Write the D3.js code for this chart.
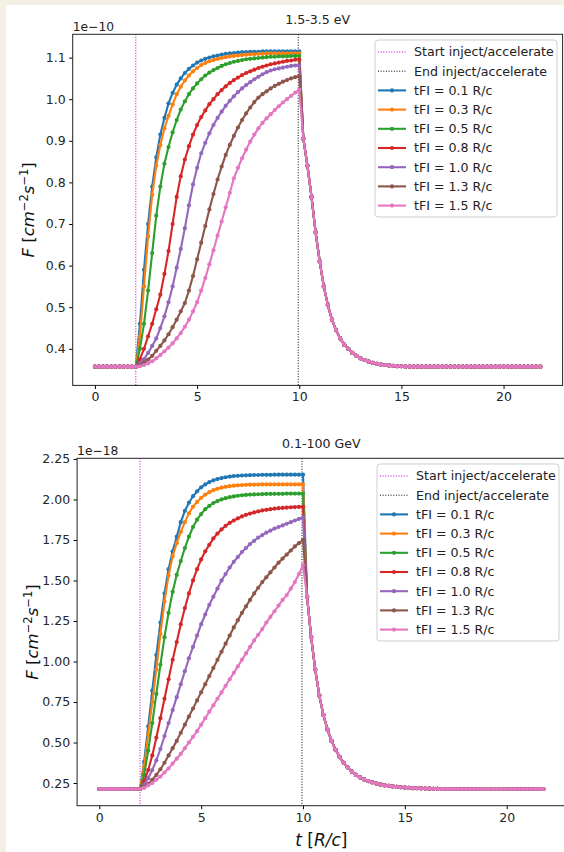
<!DOCTYPE html>
<html>
<head>
<meta charset="utf-8">
<script src="https://cdn.jsdelivr.net/npm/d3@7/dist/d3.min.js"></script>
<style>
  html, body { margin: 0; padding: 0; background: #f4f0e4; }
  svg { display: block; font-family: "DejaVu Sans", sans-serif; }
</style>
</head>
<body>
<div id="chart"></div>
<script>
// time grid (R/c): before injection, during injection, after
const tPre = [0, 0.2, 0.4, 0.6, 0.8, 1.0, 1.2, 1.4, 1.6, 1.8];
const tRise = [2.0, 2.2, 2.4, 2.6, 2.8, 3.0, 3.2, 3.4, 3.6, 3.8,
  4.0, 4.2, 4.4, 4.6, 4.8, 5.0, 5.2, 5.4, 5.6, 5.8,
  6.0, 6.2, 6.4, 6.6, 6.8, 7.0, 7.2, 7.4, 7.6, 7.8,
  8.0, 8.2, 8.4, 8.6, 8.8, 9.0, 9.2, 9.4, 9.6, 9.8, 10.0];
const tDecay = [10.2, 10.4, 10.6, 10.8, 11.0, 11.2, 11.4, 11.6, 11.8, 12.0,
  12.2, 12.4, 12.6, 12.8, 13.0, 13.2, 13.4, 13.6, 13.8, 14.0,
  14.2, 14.4, 14.6, 14.8, 15.0, 15.2, 15.4, 15.6, 15.8, 16.0,
  16.2, 16.4, 16.6, 16.8, 17.0, 17.2, 17.4, 17.6, 17.8, 18.0,
  18.2, 18.4, 18.6, 18.8, 19.0, 19.2, 19.4, 19.6, 19.8, 20.0,
  20.2, 20.4, 20.6, 20.8, 21.0, 21.2, 21.4, 21.6, 21.8];

const tStart = 2.0;
const tEnd = 9.95;

const seriesNames = ["tFI = 0.1 R/c", "tFI = 0.3 R/c", "tFI = 0.5 R/c", "tFI = 0.8 R/c",
  "tFI = 1.0 R/c", "tFI = 1.3 R/c", "tFI = 1.5 R/c"];
const seriesColors = ["#1f77b4", "#ff7f0e", "#2ca02c", "#d62728", "#9467bd", "#8c564b", "#e377c2"];

// ---- 1.5-3.5 eV (units of 1e-10) ----
const optPre = [0.357, 0.357, 0.357, 0.357, 0.357, 0.357, 0.357, 0.357, 0.357, 0.357];
const optRise = [
  [0.357, 0.46, 0.59, 0.70, 0.79, 0.86, 0.915, 0.955, 0.99, 1.015,
   1.035, 1.05, 1.063, 1.073, 1.081, 1.088, 1.093, 1.097, 1.1, 1.103,
   1.105, 1.107, 1.109, 1.11, 1.111, 1.112, 1.113, 1.113, 1.114, 1.114,
   1.114, 1.115, 1.115, 1.115, 1.115, 1.115, 1.115, 1.115, 1.115, 1.115, 1.115],
  [0.357, 0.43, 0.55, 0.67, 0.77, 0.84, 0.89, 0.93, 0.96, 0.987,
   1.012, 1.03, 1.045, 1.057, 1.067, 1.075, 1.082, 1.087, 1.091, 1.094,
   1.097, 1.099, 1.101, 1.103, 1.104, 1.105, 1.106, 1.107, 1.108, 1.108,
   1.109, 1.109, 1.11, 1.11, 1.11, 1.11, 1.11, 1.11, 1.11, 1.11, 1.11],
  [0.357, 0.40, 0.46, 0.54, 0.63, 0.72, 0.79, 0.845, 0.885, 0.92,
   0.95, 0.975, 0.995, 1.012, 1.026, 1.038, 1.048, 1.057, 1.064, 1.07,
   1.075, 1.08, 1.084, 1.087, 1.09, 1.092, 1.094, 1.096, 1.097, 1.098,
   1.099, 1.1, 1.101, 1.102, 1.102, 1.103, 1.103, 1.103, 1.104, 1.104, 1.104],
  [0.357, 0.375, 0.40, 0.43, 0.46, 0.495, 0.53, 0.58, 0.635, 0.70,
   0.765, 0.815, 0.855, 0.887, 0.915, 0.938, 0.957, 0.973, 0.988, 1.0,
   1.012, 1.022, 1.031, 1.039, 1.046, 1.052, 1.058, 1.063, 1.067, 1.071,
   1.075, 1.078, 1.081, 1.084, 1.086, 1.088, 1.09, 1.092, 1.093, 1.095, 1.096],
  [0.357, 0.365, 0.375, 0.39, 0.407, 0.425, 0.45, 0.478, 0.512, 0.55,
   0.595, 0.64, 0.69, 0.745, 0.795, 0.835, 0.87, 0.895, 0.918, 0.938,
   0.955, 0.97, 0.984, 0.996, 1.007, 1.017, 1.026, 1.034, 1.041, 1.048,
   1.054, 1.06, 1.065, 1.069, 1.072, 1.074, 1.076, 1.078, 1.08, 1.081, 1.082],
  [0.357, 0.36, 0.366, 0.374, 0.383, 0.395, 0.407, 0.42, 0.435, 0.452,
   0.47, 0.49, 0.51, 0.54, 0.575, 0.615, 0.655, 0.695, 0.735, 0.772,
   0.807, 0.838, 0.866, 0.89, 0.912, 0.932, 0.95, 0.966, 0.98, 0.993,
   1.004, 1.012, 1.019, 1.026, 1.032, 1.037, 1.042, 1.046, 1.05, 1.053, 1.055],
  [0.357, 0.358, 0.361, 0.365, 0.37, 0.377, 0.385, 0.394, 0.403, 0.413,
   0.425, 0.438, 0.453, 0.47, 0.49, 0.512, 0.54, 0.57, 0.603, 0.637,
   0.672, 0.706, 0.74, 0.775, 0.81, 0.835, 0.858, 0.879, 0.898, 0.915,
   0.93, 0.943, 0.954, 0.964, 0.974, 0.983, 0.992, 1.0, 1.008, 1.016, 1.023]
];
const optDecay = [0.905, 0.84, 0.765, 0.68, 0.61, 0.55, 0.505, 0.47, 0.445, 0.425,
  0.41, 0.40, 0.39, 0.383, 0.377, 0.373, 0.369, 0.366, 0.364, 0.362,
  0.361, 0.36, 0.359, 0.358, 0.358, 0.357, 0.357, 0.357, 0.357, 0.357,
  0.357, 0.357, 0.357, 0.357, 0.357, 0.357, 0.357, 0.357, 0.357, 0.357,
  0.357, 0.357, 0.357, 0.357, 0.357, 0.357, 0.357, 0.357, 0.357, 0.357,
  0.357, 0.357, 0.357, 0.357, 0.357, 0.357, 0.357, 0.357, 0.357];
const optTicks = [0.4, 0.5, 0.6, 0.7, 0.8, 0.9, 1.0, 1.1];

// ---- 0.1-100 GeV (units of 1e-18) ----
const gevPre = [0.213, 0.213, 0.213, 0.213, 0.213, 0.213, 0.213, 0.213, 0.213, 0.213];
const gevRise = [
  [0.213, 0.38, 0.6, 0.82, 1.04, 1.24, 1.42, 1.57, 1.68, 1.77,
   1.86, 1.93, 1.98, 2.02, 2.05, 2.075, 2.093, 2.107, 2.118, 2.126,
   2.132, 2.137, 2.141, 2.144, 2.146, 2.148, 2.149, 2.15, 2.151, 2.151,
   2.152, 2.152, 2.152, 2.153, 2.153, 2.153, 2.153, 2.153, 2.153, 2.153, 2.153],
  [0.213, 0.35, 0.55, 0.75, 0.95, 1.17, 1.37, 1.53, 1.65, 1.73,
   1.80, 1.86, 1.915, 1.955, 1.985, 2.01, 2.03, 2.045, 2.057, 2.066,
   2.073, 2.078, 2.082, 2.085, 2.087, 2.089, 2.09, 2.091, 2.092, 2.092,
   2.093, 2.093, 2.093, 2.093, 2.093, 2.093, 2.093, 2.093, 2.093, 2.093, 2.093],
  [0.213, 0.30, 0.45, 0.62, 0.80, 0.98, 1.15, 1.30, 1.43, 1.535,
   1.62, 1.70, 1.77, 1.83, 1.875, 1.91, 1.94, 1.96, 1.978, 1.99,
   2.0, 2.008, 2.014, 2.019, 2.023, 2.026, 2.028, 2.03, 2.031, 2.032,
   2.033, 2.034, 2.034, 2.035, 2.035, 2.035, 2.036, 2.036, 2.036, 2.036, 2.036],
  [0.213, 0.26, 0.33, 0.42, 0.53, 0.65, 0.77, 0.89, 1.01, 1.12,
   1.23, 1.33, 1.42, 1.50, 1.57, 1.63, 1.68, 1.72, 1.76, 1.79,
   1.815, 1.837, 1.855, 1.87, 1.883, 1.895, 1.905, 1.913, 1.92, 1.926,
   1.932, 1.936, 1.94, 1.943, 1.946, 1.948, 1.95, 1.952, 1.953, 1.954, 1.955],
  [0.213, 0.24, 0.28, 0.33, 0.39, 0.46, 0.54, 0.62, 0.70, 0.78,
   0.86, 0.94, 1.02, 1.09, 1.16, 1.23, 1.29, 1.35, 1.40, 1.45,
   1.50, 1.54, 1.58, 1.615, 1.645, 1.675, 1.70, 1.725, 1.745, 1.765,
   1.78, 1.795, 1.808, 1.82, 1.83, 1.84, 1.85, 1.86, 1.87, 1.88, 1.89],
  [0.213, 0.225, 0.245, 0.27, 0.30, 0.335, 0.375, 0.42, 0.465, 0.51,
   0.56, 0.61, 0.66, 0.71, 0.76, 0.81, 0.86, 0.91, 0.96, 1.01,
   1.06, 1.11, 1.16, 1.21, 1.255, 1.30, 1.34, 1.38, 1.42, 1.455,
   1.49, 1.52, 1.55, 1.58, 1.61, 1.635, 1.66, 1.685, 1.71, 1.73, 1.75],
  [0.213, 0.22, 0.235, 0.25, 0.27, 0.29, 0.315, 0.34, 0.37, 0.40,
   0.43, 0.465, 0.50, 0.535, 0.57, 0.61, 0.65, 0.69, 0.73, 0.77,
   0.81, 0.85, 0.89, 0.93, 0.97, 1.01, 1.05, 1.09, 1.13, 1.165,
   1.20, 1.24, 1.275, 1.31, 1.345, 1.38, 1.41, 1.45, 1.49, 1.54, 1.595]
];
const gevDecay = [1.4, 1.15, 0.95, 0.79, 0.67, 0.58, 0.51, 0.455, 0.41, 0.375,
  0.345, 0.32, 0.30, 0.285, 0.272, 0.262, 0.254, 0.247, 0.241, 0.236,
  0.232, 0.229, 0.226, 0.224, 0.222, 0.22, 0.219, 0.218, 0.217, 0.216,
  0.215, 0.214, 0.214, 0.213, 0.213, 0.213, 0.213, 0.213, 0.213, 0.213,
  0.213, 0.213, 0.213, 0.213, 0.213, 0.213, 0.213, 0.213, 0.213, 0.213,
  0.213, 0.213, 0.213, 0.213, 0.213, 0.213, 0.213, 0.213, 0.213];
const gevTicks = [0.25, 0.5, 0.75, 1.0, 1.25, 1.5, 1.75, 2.0, 2.25];

const xTicks = [0, 5, 10, 15, 20];

const W = 564, H = 852;
const svg = d3.select("#chart").append("svg")
  .attr("width", W).attr("height", H);

svg.append("rect").attr("width", W).attr("height", H).attr("fill", "#f4f0e4");
svg.append("rect").attr("x", 6).attr("y", 5).attr("width", W - 6).attr("height", H - 5).attr("fill", "#fff");

const times = tPre.concat(tRise, tDecay);

function drawPanel(cfg) {
  const x = d3.scaleLinear().domain([-1.09, 22.89]).range([cfg.left, cfg.right]);
  const y = d3.scaleLinear().domain(cfg.yDomain).range([cfg.bottom, cfg.top]);
  const g = svg.append("g");

  // injection start / end markers
  g.append("line")
    .attr("x1", x(tStart)).attr("x2", x(tStart))
    .attr("y1", cfg.top).attr("y2", cfg.bottom)
    .attr("stroke", "#bf00bf").attr("stroke-width", 1)
    .attr("stroke-dasharray", "1,1.65");
  g.append("line")
    .attr("x1", x(tEnd)).attr("x2", x(tEnd))
    .attr("y1", cfg.top).attr("y2", cfg.bottom)
    .attr("stroke", "#000").attr("stroke-width", 1)
    .attr("stroke-dasharray", "1,1.65");

  const line = d3.line().x(d => x(d[0])).y(d => y(d[1]));

  cfg.rise.forEach((r, i) => {
    const vals = cfg.pre.concat(r, cfg.decay);
    const pts = times.map((t, k) => [t, vals[k]]);
    g.append("path").datum(pts)
      .attr("d", line)
      .attr("fill", "none")
      .attr("stroke", seriesColors[i])
      .attr("stroke-width", 2.1)
      .attr("stroke-linejoin", "round");
    g.append("g").selectAll("circle")
      .data(pts).enter().append("circle")
      .attr("cx", d => x(d[0])).attr("cy", d => y(d[1]))
      .attr("r", 2.1)
      .attr("fill", seriesColors[i]);
  });

  // axes
  g.append("g")
    .attr("transform", `translate(0,${cfg.bottom})`)
    .call(d3.axisBottom(x).tickValues(xTicks).tickSize(3.5).tickPadding(3.5).tickFormat(d3.format("d")))
    .call(a => a.select(".domain").remove())
    .call(a => a.selectAll("text").attr("font-size", 12.5).attr("fill", "#262626").attr("font-family", "DejaVu Sans"));
  g.append("g")
    .attr("transform", `translate(${cfg.left},0)`)
    .call(d3.axisLeft(y).tickValues(cfg.ticks).tickSize(3.5).tickPadding(3.5).tickFormat(d3.format(cfg.fmt)))
    .call(a => a.select(".domain").remove())
    .call(a => a.selectAll("text").attr("font-size", 12.5).attr("fill", "#262626").attr("font-family", "DejaVu Sans"));

  g.append("rect")
    .attr("x", cfg.left).attr("y", cfg.top)
    .attr("width", cfg.right - cfg.left).attr("height", cfg.bottom - cfg.top)
    .attr("fill", "none").attr("stroke", "#222").attr("stroke-width", 1);

  g.append("text").attr("x", (cfg.left + cfg.right) / 2).attr("y", cfg.top - 10.5)
    .attr("text-anchor", "middle").attr("font-size", 12.6).attr("fill", "#222")
    .text(cfg.title);
  g.append("text").attr("x", cfg.left).attr("y", cfg.top - 3.5)
    .attr("font-size", 12.3).attr("fill", "#222")
    .text(cfg.offset);

  // y label
  const yl = g.append("text")
    .attr("transform", `translate(${cfg.left - 39},${(cfg.top + cfg.bottom) / 2}) rotate(-90)`)
    .attr("text-anchor", "middle").attr("font-size", 16.5).attr("fill", "#111");
  yl.append("tspan").attr("font-style", "italic").text("F");
  yl.append("tspan").text(" [");
  yl.append("tspan").attr("font-style", "italic").text("cm");
  yl.append("tspan").attr("font-size", 11.5).attr("dy", -6).text("\u22122");
  yl.append("tspan").attr("font-style", "italic").attr("dy", 6).text("s");
  yl.append("tspan").attr("font-size", 11.5).attr("dy", -6).text("\u22121");
  yl.append("tspan").attr("dy", 6).text("]");

  // legend
  const lg = g.append("g").attr("transform", `translate(${cfg.legX},${cfg.top + 5.7})`);
  lg.append("rect").attr("width", 182).attr("height", 177).attr("rx", 3)
    .attr("fill", "#fff").attr("fill-opacity", 0.8)
    .attr("stroke", "#cfcfcf").attr("stroke-width", 1);
  const rowY = k => 12 + k * 19.2;
  const dots = [["Start inject/accelerate", "#bf00bf"], ["End inject/accelerate", "#000"]];
  dots.forEach((d, k) => {
    lg.append("line").attr("x1", 3).attr("x2", 31).attr("y1", rowY(k)).attr("y2", rowY(k))
      .attr("stroke", d[1]).attr("stroke-width", 1).attr("stroke-dasharray", "1,1.65");
    lg.append("text").attr("x", 39).attr("y", rowY(k) + 4.4).attr("font-size", 12.6).attr("fill", "#222").text(d[0]);
  });
  seriesNames.forEach((name, i) => {
    const k = i + 2;
    lg.append("line").attr("x1", 3).attr("x2", 31).attr("y1", rowY(k)).attr("y2", rowY(k))
      .attr("stroke", seriesColors[i]).attr("stroke-width", 2.1);
    lg.append("circle").attr("cx", 17).attr("cy", rowY(k)).attr("r", 2.1).attr("fill", seriesColors[i]);
    lg.append("text").attr("x", 39).attr("y", rowY(k) + 4.4).attr("font-size", 12.6).attr("fill", "#222").text(name);
  });
}

drawPanel({
  left: 72.7, right: 562.6, top: 34.3, bottom: 385.4,
  yDomain: [0.312, 1.156], ticks: optTicks, fmt: ".1f",
  title: "1.5-3.5 eV", offset: "1e\u221210",
  pre: optPre, rise: optRise, decay: optDecay, legX: 375
});
drawPanel({
  left: 77.1, right: 565.6, top: 458.3, bottom: 805.7,
  yDomain: [0.11, 2.254], ticks: gevTicks, fmt: ".2f",
  title: "0.1-100 GeV", offset: "1e\u221218",
  pre: gevPre, rise: gevRise, decay: gevDecay, legX: 377
});

// x label (shared, under the lower panel)
const xl = svg.append("text").attr("x", (77.1 + 565.6) / 2).attr("y", 846)
  .attr("text-anchor", "middle").attr("font-size", 17).attr("fill", "#111");
xl.append("tspan").attr("font-style", "italic").text("t");
xl.append("tspan").text(" [");
xl.append("tspan").attr("font-style", "italic").text("R/c");
xl.append("tspan").text("]");
</script>
</body>
</html>
